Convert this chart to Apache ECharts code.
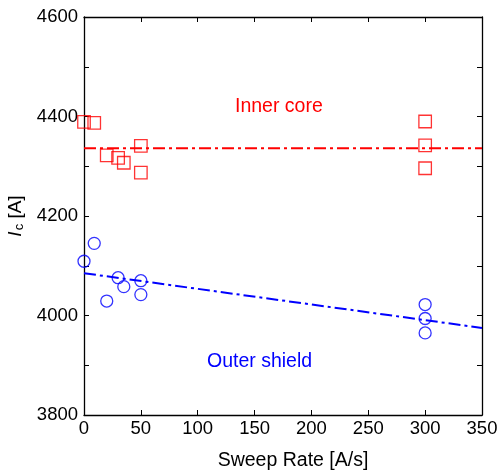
<!DOCTYPE html>
<html>
<head>
<meta charset="utf-8">
<script src="https://cdn.jsdelivr.net/npm/echarts@6/dist/echarts.min.js"></script>
<style>html,body{margin:0;padding:0;background:#fff}#c{width:497px;height:473px}</style>
</head>
<body>
<div id="c"></div>
<script>
// Inner core (red squares)
const innerX = [0, 9, 20, 30, 35, 50, 50, 300, 300, 300];
const innerY = [4389, 4387, 4322, 4317, 4307, 4341, 4287, 4390, 4342, 4296];
// Outer shield (blue circles)
const outerX = [0, 9, 20, 30, 35, 50, 50, 300, 300, 300];
const outerY = [4109, 4145, 4029, 4076, 4058, 4070, 4042, 4022, 3994, 3965];
// Fit lines
const innerFitX = [0, 350];
const innerFitY = [4336, 4336];
const outerFitX = [0, 350];
const outerFitY = [4085, 3975];
const xTicks = [0, 50, 100, 150, 200, 250, 300, 350];
const yTicks = [3800, 4000, 4200, 4400, 4600];

const zip = (a, b) => a.map((v, i) => [v, b[i]]);
const font = 'Liberation Sans, Arial, sans-serif';
const chart = echarts.init(document.getElementById('c'));
const axisCommon = {
  axisLine: { show: true, onZero: false, lineStyle: { color: '#000', width: 1.3 } },
  axisTick: { show: true, inside: true, length: 5, lineStyle: { color: '#000', width: 1 } },
  splitLine: { show: false }
};
chart.setOption({
  animation: false,
  backgroundColor: '#fff',
  grid: { left: 84, right: 15, top: 17, bottom: 58, containLabel: false, outerBoundsMode: 'none' },
  xAxis: [
    Object.assign({}, axisCommon, {
      type: 'value', min: xTicks[0], max: xTicks[xTicks.length - 1], interval: 50, position: 'bottom',
      axisLabel: { color: '#000', fontSize: 18.5, fontFamily: font, margin: 4, formatter: v => String(v) },
      name: 'Sweep Rate [A/s]', nameLocation: 'middle', nameGap: 36,
      nameTextStyle: { color: '#000', fontSize: 19.5, fontFamily: font, padding: [0, 0, 0, 20] }
    }),
    Object.assign({}, axisCommon, {
      type: 'value', min: 0, max: 350, interval: 50, position: 'top',
      axisLabel: { show: false }
    })
  ],
  yAxis: [
    Object.assign({}, axisCommon, {
      type: 'value', min: yTicks[0], max: yTicks[yTicks.length - 1], interval: 200, position: 'left',
      minorTick: { show: true, splitNumber: 2, length: 5, lineStyle: { color: '#000', width: 1 } },
      axisLabel: { color: '#000', fontSize: 18.5, fontFamily: font, margin: 6, formatter: v => String(v) },
      name: '{i|I}{s|c} [A]', nameLocation: 'middle', nameGap: 51, nameRotate: 90,
      nameTextStyle: {
        color: '#000', fontSize: 19, fontFamily: font,
        rich: {
          i: { fontSize: 19, fontStyle: 'italic', fontFamily: font, color: '#000' },
          s: { fontSize: 13, fontFamily: font, color: '#000', padding: [8, 0, 0, 1] }
        }
      }
    }),
    Object.assign({}, axisCommon, {
      type: 'value', min: 3800, max: 4600, interval: 200, position: 'right',
      minorTick: { show: true, splitNumber: 2, length: 5, lineStyle: { color: '#000', width: 1 } },
      axisLabel: { show: false }
    })
  ],
  series: [
    {
      type: 'line', data: zip(innerFitX, innerFitY), showSymbol: false, symbol: 'none',
      lineStyle: { color: '#ff0000', width: 2, type: [12, 4, 3, 4] }, z: 2
    },
    {
      type: 'line', data: zip(outerFitX, outerFitY), showSymbol: false, symbol: 'none',
      lineStyle: { color: '#0000ff', width: 2, type: [12, 4, 3, 4] }, z: 2
    },
    {
      type: 'scatter', data: zip(innerX, innerY), symbol: 'rect', symbolSize: 12.5,
      itemStyle: { color: 'rgba(255,255,255,0)', borderColor: '#ff0000', borderWidth: 1.3 }, z: 3
    },
    {
      type: 'scatter', data: zip(outerX, outerY), symbol: 'circle', symbolSize: 12,
      itemStyle: { color: 'rgba(255,255,255,0)', borderColor: '#0000ff', borderWidth: 1.3 }, z: 3
    }
  ],
  graphic: [
    { type: 'text', left: 235, top: 97, style: { text: 'Inner core', fill: '#ff0000', font: '19.5px ' + font } },
    { type: 'text', left: 207, top: 352, style: { text: 'Outer shield', fill: '#0000ff', font: '19.5px ' + font } }
  ]
});
</script>
</body>
</html>
